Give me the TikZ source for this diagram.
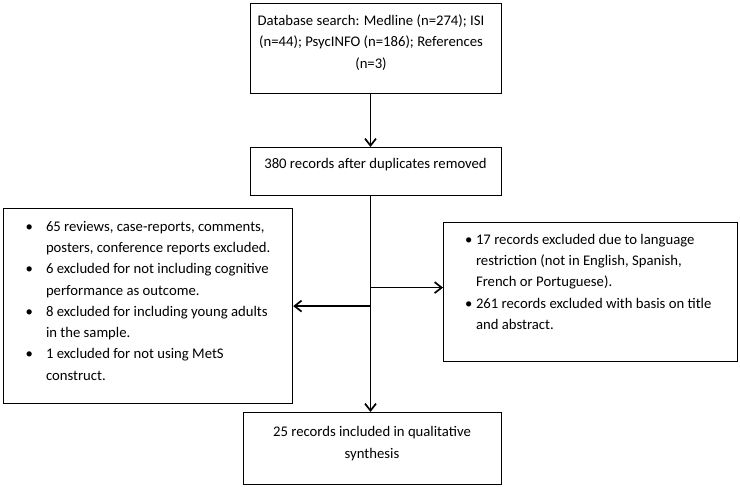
\documentclass[tikz,border=0pt]{standalone}
\usepackage{fontspec}
\setmainfont{Carlito}
\usetikzlibrary{arrows.meta, positioning}
\tikzset{stagebox/.style={draw=black, line width=1.2pt, inner sep=0pt, anchor=north west},boxtext/.style={inner sep=0pt, anchor=north, align=center, font=\fontsize{14.7}{21.3}\selectfont}}
\tikzset{listtext/.style={inner sep=0pt, anchor=north west, font=\fontsize{14.7}{21.3}\selectfont},flow/.style={line width=1.7pt, -{Straight Barb[length=7pt, width=11pt]}}}

\begin{document}
\begin{tikzpicture}[x=1pt, y=-1pt]
        \useasboundingbox (0,0) rectangle (740,487);
        % Boxes
        \node[stagebox, minimum width=250.5pt, minimum height=90pt] (search) at (250,3) {};
        \node[stagebox, minimum width=250.5pt, minimum height=48pt] (dedup) at (250,147) {};
        \node[stagebox, minimum width=289pt, minimum height=195pt] (exclleft) at (3,208) {};
        \node[stagebox, minimum width=294pt, minimum height=139pt] (exclright) at (443,222) {};
        \node[stagebox, minimum width=258pt, minimum height=72pt] (included) at (243,412) {};
        % Texts
        \node[boxtext] (searchtext) at (371,14.5) {Database search: Medline (n=274); ISI\\(n=44); PsycINFO (n=186); References\\(n=3)};
        \node[boxtext] (deduptext) at (375.5,158.5) {380 records after duplicates removed};
        \node[boxtext] (includedtext) at (372,426.5) {25 records included in qualitative\\synthesis};
        \node[listtext] (exclleftlist) at (25.5,216) {%
            \begin{tabular}{@{}l@{\hspace{13pt}}l@{}}
            \textbullet & 65 reviews, case-reports, comments,\\
             & posters, conference reports excluded.\\
            \textbullet & 6 excluded for not including cognitive\\
             & performance as outcome.\\
            \textbullet & 8 excluded for including young adults\\
             & in the sample.\\
            \textbullet & 1 excluded for not using MetS\\
             & construct.
            \end{tabular}};
        \node[listtext] (exclrightlist) at (465,229) {%
            \begin{tabular}{@{}l@{\hspace{3.5pt}}l@{}}
            \textbullet & 17 records excluded due to language\\
             & restriction (not in English, Spanish,\\
             & French or Portuguese).\\
            \textbullet & 261 records excluded with basis on title\\
             & and abstract.
            \end{tabular}};
        % Arrows
        \coordinate (spine) at (370.5,0);
        \draw[flow] (search.south -| spine) -- (dedup.north -| spine);
        \draw[flow] (dedup.south -| spine) -- (included.north -| spine);
        \draw[flow] (exclleft.east -| spine) -- (exclleft.east);
        \draw[flow] ([yshift=4.5pt]exclright.west -| spine) -- ([yshift=4.5pt]exclright.west);
\end{tikzpicture}
\end{document}
